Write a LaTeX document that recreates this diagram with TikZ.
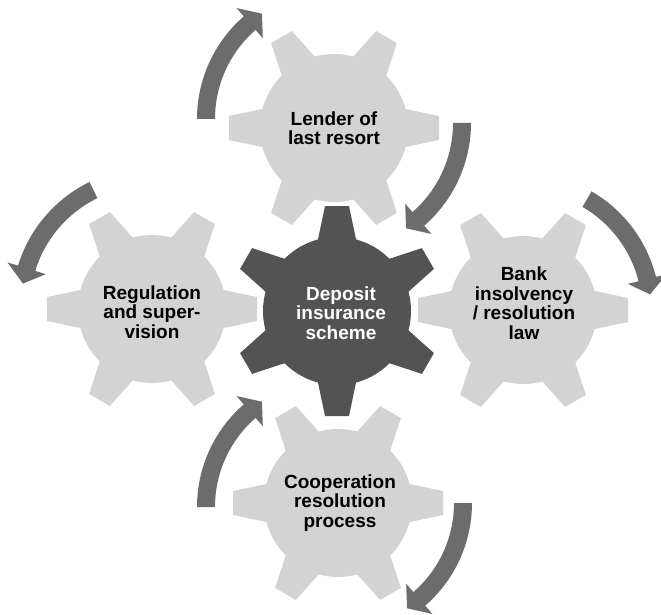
\documentclass[tikz,border=0pt]{standalone}
\usepackage{fontspec}
\setmainfont{Liberation Sans}
\usetikzlibrary{calc}
\definecolor{lightgear}{RGB}{211,211,211}
\definecolor{darkgear}{RGB}{83,83,83}
\definecolor{arrowgray}{RGB}{108,108,108}

\newcommand{\gear}[3]{%
  \fill[#3] (#1) circle (74pt);
  \foreach \a in {0,60,...,300}
    \fill[#3,shift={(#1)},rotate={\a+#2}] (55,-22.5) -- (105,-12) -- (105,12) -- (55,22.5) -- cycle;
}
\newcommand{\turnarrow}[5]{%
  \fill[arrowgray] ($(#1)+(#3:{#2pt+9pt})$) arc[start angle=#3, end angle=#4, radius=#2pt+9pt]
    -- ($(#1)+(#4:{#2pt+20pt})$) -- ($(#1)+(#5:{#2pt})$) -- ($(#1)+(#4:{#2pt-20pt})$)
    -- ($(#1)+(#4:{#2pt-9pt})$) arc[start angle=#4, end angle=#3, radius=#2pt-9pt] -- cycle;
}

\begin{document}
\begin{tikzpicture}[x=1pt,y=1pt,
  gearlabel/.style={font=\bfseries\fontsize{19}{19.5}\selectfont,align=center,inner sep=0pt}]
\useasboundingbox (0,0) rectangle (661,-615);
\coordinate (lenderc) at (334,-128);
\coordinate (regc) at (152,-309);
\coordinate (bankc) at (523,-310);
\coordinate (coopc) at (338,-503);
\coordinate (depc) at (337,-311);
\gear{lenderc}{0}{lightgear}
\gear{regc}{0}{lightgear}
\gear{bankc}{0}{lightgear}
\gear{coopc}{0}{lightgear}
\gear{depc}{30}{darkgear}
\node[gearlabel] (lender) at (lenderc) {Lender of\\last resort};
\node[gearlabel] (reg) at (152,-312) {Regulation\\and super-\\vision};
\node[gearlabel] (bank) at (524,-303) {Bank\\insolvency\\/ resolution\\law};
\node[gearlabel] (coop) at (340,-503) {Cooperation\\resolution\\process};
\node[gearlabel,text=white] (dep) at (341,-313) {Deposit\\insurance\\scheme};
\turnarrow{333,-119}{127}{180}{131}{124}
\turnarrow{335,-123}{127}{0}{-49}{-56}
\turnarrow{523,-310}{128}{60}{14}{7}
\turnarrow{150,-306}{129}{116}{163}{170}
\turnarrow{333,-507}{127}{180}{131}{124}
\turnarrow{336,-503}{127}{0}{-49}{-56}
\end{tikzpicture}
\end{document}
